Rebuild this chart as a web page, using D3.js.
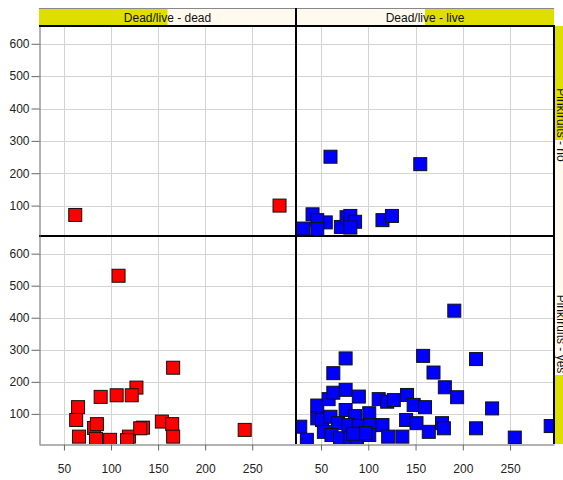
<!DOCTYPE html>
<html><head><meta charset="utf-8">
<script src="https://cdn.jsdelivr.net/npm/d3@7"></script>
<style>
body{margin:0;background:#fff;}
text{font-family:"Liberation Sans",Arial,sans-serif;}
</style>
</head><body>
<svg id="c" width="563" height="480"></svg>
<script>
// ---- data ----
const colLevels = ["dead", "live"];
const rowLevels = ["no", "yes"];
const colLabels = ["Dead/live - dead", "Dead/live - live"];
const rowLabels = ["Pinkfruits - no", "Pinkfruits - yes"];
const xTicks = [50, 100, 150, 200, 250];
const yTicks = [100, 200, 300, 400, 500, 600];

const deadNoX = [62, 279];
const deadNoY = [71, 100];

const liveNoX = [60, 155, 41, 31, 55, 46, 46, 71, 77, 81, 86, 81, 115, 125];
const liveNoY = [251, 228, 73, 29, 48, 55, 27, 34, 64, 68, 50, 32, 55, 68];

const deadYesX = [108, 166, 127, 89, 106, 122, 65, 63, 82, 85, 66, 84, 99, 119, 117, 134, 131, 154, 165, 166, 242];
const deadYesY = [531, 244, 182, 153, 158, 158, 121, 81, 56, 68, 29, 22, 19, 29, 18, 57, 55, 76, 68, 29, 50];

const liveYesX = [191, 76, 158, 214, 63, 169, 181, 194, 231, 214, 255, 293, 28, 35, 46, 58, 63, 76, 90, 111, 120, 127, 141, 148, 160,
                  46, 51, 60, 76, 86, 101, 68, 79, 90, 102, 115, 140, 151, 178, 180, 164, 53, 61, 70, 81, 88, 101, 121, 136, 97, 84];
const liveYesY = [422, 273, 281, 271, 227, 229, 183, 152, 117, 55, 26, 62, 60, 19, 126, 146, 166, 175, 154, 146, 138, 143, 159, 128, 121,
                  86, 81, 91, 112, 93, 102, 71, 65, 62, 65, 65, 81, 71, 71, 55, 44, 44, 34, 24, 24, 24, 34, 29, 29, 40, 38];

const xDomain = [23.5, 296.5];
const yDomain = [6, 655];

// ---- layout ----
const svg = d3.select("#c");
const colX = [[39, 296], [296, 554]];
const rowY = [[26, 236], [236, 444]];
const YELLOW = "#dede00", CREAM = "#fff9ee";

const xs = colX.map(r => d3.scaleLinear().domain(xDomain).range(r));
const ys = rowY.map(r => d3.scaleLinear().domain(yDomain).range([r[1], r[0]]));

const panels = [
  {c: 0, r: 0, x: deadNoX, y: deadNoY, fill: "#ff0000"},
  {c: 1, r: 0, x: liveNoX, y: liveNoY, fill: "#0000ff"},
  {c: 0, r: 1, x: deadYesX, y: deadYesY, fill: "#ff0000"},
  {c: 1, r: 1, x: liveYesX, y: liveYesY, fill: "#0000ff"}
];

const defs = svg.append("defs");
panels.forEach((p, i) => {
  defs.append("clipPath").attr("id", "clip" + i).append("rect")
    .attr("x", colX[p.c][0]).attr("y", rowY[p.r][0])
    .attr("width", colX[p.c][1] - colX[p.c][0]).attr("height", rowY[p.r][1] - rowY[p.r][0]);
});

// gridlines
panels.forEach(p => {
  const g = svg.append("g");
  const xsc = xs[p.c], ysc = ys[p.r];
  g.selectAll("line.vx").data(xTicks).join("line")
    .attr("x1", d => Math.round(xsc(d)) + 0.5).attr("x2", d => Math.round(xsc(d)) + 0.5)
    .attr("y1", rowY[p.r][0]).attr("y2", rowY[p.r][1])
    .attr("stroke", "#d4d4d4").attr("stroke-width", 1);
  g.selectAll("line.hy").data(yTicks).join("line")
    .attr("y1", d => Math.round(ysc(d)) + 0.5).attr("y2", d => Math.round(ysc(d)) + 0.5)
    .attr("x1", colX[p.c][0]).attr("x2", colX[p.c][1])
    .attr("stroke", "#d4d4d4").attr("stroke-width", 1);
});

// points
const S = 13;
panels.forEach((p, i) => {
  const pts = p.x.map((v, k) => [v, p.y[k]]);
  svg.append("g").attr("clip-path", `url(#clip${i})`)
    .selectAll("rect").data(pts).join("rect")
    .attr("x", d => xs[p.c](d[0]) - S / 2).attr("y", d => ys[p.r](d[1]) - S / 2)
    .attr("width", S).attr("height", S)
    .attr("fill", p.fill).attr("stroke", "#111").attr("stroke-width", 1);
});

// top strips
colLevels.forEach((lev, c) => {
  const x0 = colX[c][0], x1 = colX[c][1], w = x1 - x0;
  svg.append("rect").attr("x", x0).attr("y", 8).attr("width", w).attr("height", 18).attr("fill", CREAM);
  svg.append("rect").attr("x", x0 + c * w / 2).attr("y", 8).attr("width", w / 2).attr("height", 18).attr("fill", YELLOW);
  svg.append("text").attr("x", (x0 + x1) / 2).attr("y", 21.5).attr("text-anchor", "middle")
    .attr("font-size", "12px").attr("fill", "#111").text(colLabels[c]);
});
svg.append("line").attr("x1", 39).attr("x2", 554).attr("y1", 8.5).attr("y2", 8.5).attr("stroke", "#888");

// right strips
const rYellow = [[26, 140], [375, 444]];
rowLevels.forEach((lev, r) => {
  const y0 = rowY[r][0], y1 = rowY[r][1];
  svg.append("rect").attr("x", 555).attr("y", y0).attr("width", 20).attr("height", y1 - y0).attr("fill", CREAM);
  svg.append("rect").attr("x", 555).attr("y", rYellow[r][0]).attr("width", 20).attr("height", rYellow[r][1] - rYellow[r][0]).attr("fill", YELLOW);
  svg.append("text").attr("transform", `translate(557,${(y0 + y1) / 2 - 6}) rotate(90)`)
    .attr("text-anchor", "middle").attr("font-size", "12px").attr("fill", "#111").text(rowLabels[r]);
});

// panel borders
const black = (x1, y1, x2, y2) => svg.append("line").attr("x1", x1).attr("y1", y1).attr("x2", x2).attr("y2", y2)
  .attr("stroke", "#000").attr("stroke-width", 2);
black(39, 26, 555, 26);
black(296, 8, 296, 444);
black(39, 236, 555, 236);
black(554, 26, 554, 444);

// axes
rowLevels.forEach((lev, r) => {
  const ax = svg.append("g").attr("transform", "translate(39.5,0)")
    .call(d3.axisLeft(ys[r]).tickValues(yTicks).tickSize(8).tickSizeOuter(0).tickPadding(2));
  ax.select(".domain").attr("stroke", "#666");
  ax.selectAll(".tick line").attr("stroke", "#666");
  ax.selectAll("text").attr("font-size", "12px").attr("fill", "#222")
    .attr("font-family", '"Liberation Sans",Arial,sans-serif');
});
colLevels.forEach((lev, c) => {
  const ax = svg.append("g").attr("transform", "translate(0,444.5)")
    .call(d3.axisBottom(xs[c]).tickValues(xTicks).tickSize(6).tickSizeOuter(0).tickPadding(14));
  ax.select(".domain").attr("stroke", "#666");
  ax.selectAll(".tick line").attr("stroke", "#666");
  ax.selectAll("text").attr("font-size", "12px").attr("fill", "#222")
    .attr("font-family", '"Liberation Sans",Arial,sans-serif');
});
</script>
</body></html>
